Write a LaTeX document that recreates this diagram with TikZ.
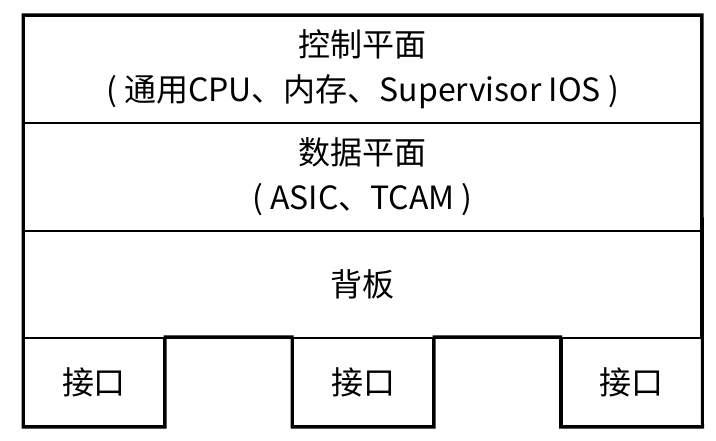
\documentclass[tikz,border=0pt]{standalone}
\usepackage{fontspec}
\setmainfont{Noto Sans CJK SC}
\usepackage{tikz}
\tikzstyle{plane}=[fill=white, draw=black, line width=2pt, shape=rectangle, inner sep=0pt, minimum width=677pt, align=center, font=\fontsize{32}{45}\selectfont]
\tikzstyle{port}=[fill=white, draw=black, line width=2pt, shape=rectangle, inner sep=0pt, minimum width=140pt, minimum height=88pt, font=\fontsize{32}{45}\selectfont]
\tikzstyle{frame}=[draw=black, line width=3pt, line join=miter]
\pgfdeclarelayer{nodelayer}
\pgfdeclarelayer{edgelayer}
\pgfsetlayers{nodelayer,edgelayer}

\begin{document}
\begin{tikzpicture}[x=1pt, y=-1pt]
	\useasboundingbox (0, 0) rectangle (716, 441);
	\begin{pgfonlayer}{nodelayer}
		\node [style=plane, minimum height=107pt] (ctrl) at (362.5, 69.5) {控制平面\\( 通用CPU、内存、Supervisor IOS )};
		\node [style=plane, minimum height=108pt] (data) at (362.5, 177) {数据平面\\( ASIC、TCAM )};
		\node [style=plane, minimum height=107pt] (back) at (362.5, 284.5) {背板};
		\node [style=port] (if1) at (94, 382) {接口};
		\node [style=port] (if2) at (363, 382) {接口};
		\node [style=port] (if3) at (631.5, 382) {接口};
	\end{pgfonlayer}
	\begin{pgfonlayer}{edgelayer}
		\draw [style=frame] (ctrl.north west) -- (ctrl.north east) -- (if3.south east) -- (if3.south west) -- (if3.north west) -- (if2.north east) -- (if2.south east) -- (if2.south west) -- (if2.north west) -- (if1.north east) -- (if1.south east) -- (if1.south west) -- cycle;
	\end{pgfonlayer}
\end{tikzpicture}
\end{document}
